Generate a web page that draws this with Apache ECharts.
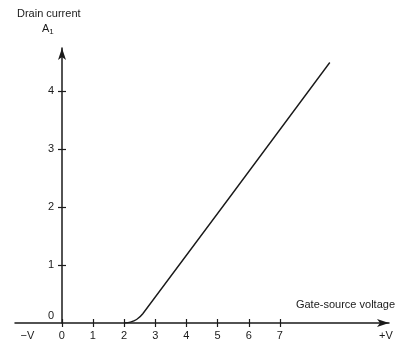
<!DOCTYPE html>
<html><head><meta charset="utf-8">
<script src="https://cdn.jsdelivr.net/npm/echarts@6/dist/echarts.min.js"></script>
<style>html,body{margin:0;padding:0;background:#fff}#c{width:401px;height:349px}</style>
</head><body><div id="c"></div>
<script>
const xTicks = [0, 1, 2, 3, 4, 5, 6, 7];
const yTicks = [1, 2, 3, 4];
const curveV = [2.0, 2.2, 2.4, 2.6, 8.6];
const curveI = [0.0, 0.015, 0.06, 0.16, 4.5];

const ink = '#1a1a1a';
const font = 'Liberation Sans, Arial, sans-serif';
const chart = echarts.init(document.getElementById('c'));
const xLabelVals = [-1.1].concat(xTicks, [10.4]);
const yOff = -47;
chart.setOption({
  animation: false,
  grid: { left: 15, right: 12, top: 48, bottom: 26 },
  xAxis: [{
    type: 'value', min: -1.5, max: 10.5,
    axisLine: { onZero: false, lineStyle: { color: ink, width: 1.5 }, symbol: ['none', 'arrow'], symbolSize: [6, 12] },
    axisTick: { show: true, length: 4, customValues: xTicks, lineStyle: { color: ink, width: 1.2 } },
    axisLabel: { customValues: xLabelVals, color: ink, fontFamily: font, fontSize: 11, margin: 7,
      formatter: v => v < -1 ? '\u2212V' : (v > 10 ? '+V' : String(Math.round(v))) },
    splitLine: { show: false }
  }, {
    type: 'value', min: -1.5, max: 10.5, position: 'bottom',
    axisLine: { show: false },
    axisTick: { show: true, inside: true, length: 4, customValues: xTicks, lineStyle: { color: ink, width: 1.2 } },
    axisLabel: { show: false }, splitLine: { show: false }
  }],
  yAxis: [{
    type: 'value', min: 0, max: 4.75, position: 'left', offset: yOff,
    axisLine: { onZero: false, lineStyle: { color: ink, width: 1.5 }, symbol: ['none', 'arrow'], symbolSize: [6, 12] },
    axisTick: { show: true, length: 4, customValues: yTicks, lineStyle: { color: ink, width: 1.2 } },
    axisLabel: { customValues: [0.12].concat(yTicks), color: ink, fontFamily: font, fontSize: 11, margin: 8,
      formatter: v => String(Math.round(v)) },
    splitLine: { show: false }
  }, {
    type: 'value', min: 0, max: 4.75, position: 'left', offset: yOff,
    axisLine: { show: false },
    axisTick: { show: true, inside: true, length: 4, customValues: yTicks, lineStyle: { color: ink, width: 1.2 } },
    axisLabel: { show: false }, splitLine: { show: false }
  }],
  series: [{
    type: 'line', data: curveV.map((v, i) => [v, curveI[i]]),
    showSymbol: false, smooth: 0.25,
    lineStyle: { color: ink, width: 1.4 }
  }],
  graphic: [
    { type: 'text', left: 17, top: 8, style: { text: 'Drain current', font: '11px ' + font, fill: ink } },
    { type: 'text', left: 42, top: 23, style: { text: 'A{s|1}', rich: { s: { fontSize: 8, padding: [6, 0, 0, 0] } }, font: '11px ' + font, fill: ink } },
    { type: 'text', right: 6, top: 299, style: { text: 'Gate-source voltage', font: '11px ' + font, fill: ink } }
  ]
});
</script></body></html>
